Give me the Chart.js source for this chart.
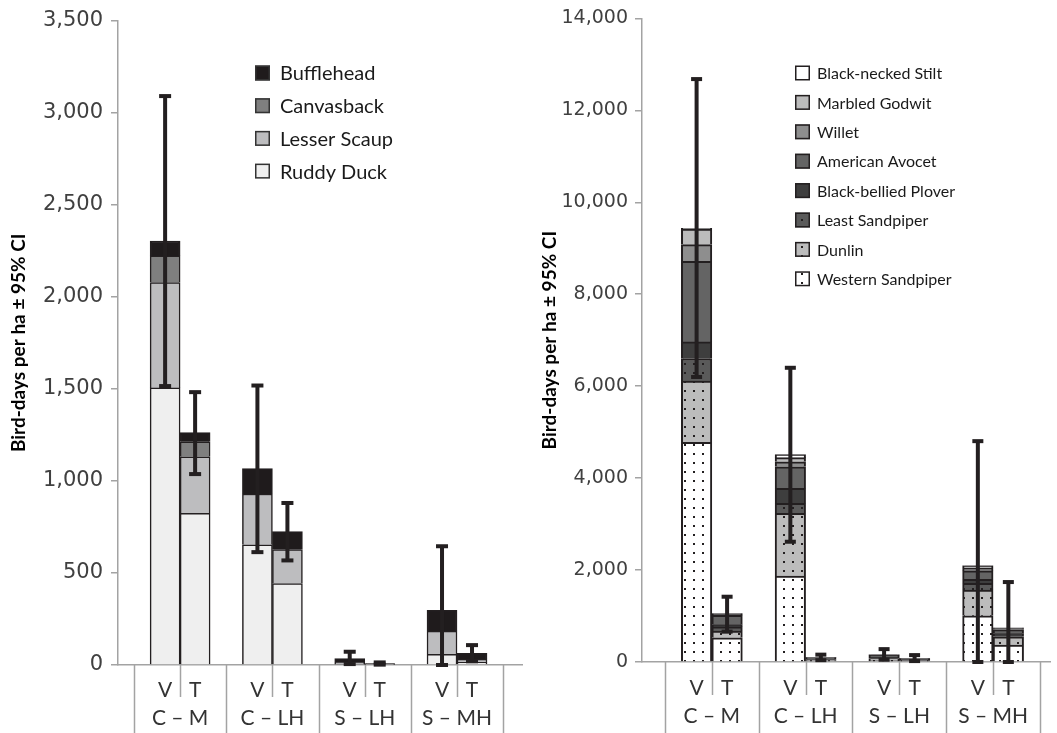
<!DOCTYPE html>
<html>
<head>
<meta charset="utf-8">
<title>Bird-days per ha</title>
<script src="https://cdn.jsdelivr.net/npm/chart.js@4.4.1/dist/chart.umd.min.js"></script>
<style>
  html, body { margin: 0; padding: 0; background: #ffffff; }
  #wrap { position: relative; width: 1057px; height: 733px; overflow: hidden; }
  #c1 { position: absolute; left: 0; top: 0; }
  #c2 { position: absolute; left: 528px; top: 0; }
</style>
</head>
<body>
<div id="wrap">
  <canvas id="c1" width="528" height="733"></canvas>
  <canvas id="c2" width="529" height="733"></canvas>
</div>
<script>
// ---- categories ----
const groups = ['C – M', 'C – LH', 'S – LH', 'S – MH'];
const treatments = ['V', 'T'];

// ---- waterfowl (left panel), stacked bottom to top ----
const duckSpecies = ['Ruddy Duck', 'Lesser Scaup', 'Canvasback', 'Bufflehead'];
const ruddyV = [1505, 653, 5, 58];
const ruddyT = [824, 442, 3, 14];
const scaupV = [572, 276, 10, 126];
const scaupT = [307, 185, 2, 18];
const canvasbackV = [145, 0, 0, 0];
const canvasbackT = [81, 0, 0, 0];
const buffleheadV = [81, 138, 20, 113];
const buffleheadT = [50, 98, 3, 31];
const duckCiLowV = [1515, 613, 5, 0];
const duckCiHighV = [3090, 1518, 72, 645];
const duckCiLowT = [1037, 568, 2, 20];
const duckCiHighT = [1482, 880, 14, 108];
const duckTicks = { max: 3500, step: 500 };

// ---- shorebirds (right panel), stacked bottom to top ----
const shoreSpecies = ['Western Sandpiper', 'Dunlin', 'Least Sandpiper', 'Black-bellied Plover',
  'American Avocet', 'Willet', 'Marbled Godwit', 'Black-necked Stilt'];
const westernV = [4776, 1870, 40, 1005];
const westernT = [528, 30, 20, 370];
const dunlinV = [1333, 1363, 35, 560];
const dunlinT = [145, 15, 10, 180];
const leastV = [493, 217, 12, 146];
const leastT = [90, 10, 5, 40];
const ploverV = [361, 326, 20, 90];
const ploverT = [50, 10, 10, 30];
const avocetV = [1754, 470, 40, 180];
const avocetT = [200, 25, 25, 80];
const willetV = [363, 110, 8, 60];
const willetT = [25, 5, 5, 25];
const godwitV = [336, 90, 3, 50];
const godwitT = [15, 3, 3, 15];
const stiltV = [15, 68, 2, 9];
const stiltT = [5, 2, 2, 6];
const shoreCiLowV = [6200, 2616, 50, 0];
const shoreCiHighV = [12680, 6400, 280, 4804];
const shoreCiLowT = [660, 40, 20, 0];
const shoreCiHighT = [1420, 160, 150, 1739];
const shoreTicks = { max: 14000, step: 2000 };

// ---- styling ----
const INK = '#231f20';
const AXIS = '#a3a3a3';
const TICK_TEXT = '#404040';
const LABEL_FONT = 'Lato, "Open Sans", sans-serif';
const NUM_FONT = '"DejaVu Sans", Verdana, sans-serif';

function dotted(bg) {
  const c = document.createElement('canvas');
  c.width = 9; c.height = 9;
  const g = c.getContext('2d');
  g.fillStyle = bg; g.fillRect(0, 0, 9, 9);
  g.fillStyle = INK; g.fillRect(3, 3, 2, 2);
  return g.createPattern(c, 'repeat');
}

const duckFills = ['#efefef', '#bdbdbf', '#7f7f7f', '#1f1b1c'];
const shoreFills = [dotted('#ffffff'), dotted('#bcbcbc'), dotted('#5a5a5a'), '#3e3e3e',
  '#646464', '#8e8e8e', '#bcbcbc', '#ffffff'];

function makeDatasets(species, seriesV, seriesT, fills, borderW, thickness) {
  const out = [];
  species.forEach((name, s) => {
    [seriesV[s], seriesT[s]].forEach((vals, t) => {
      out.push({
        label: name,
        stack: treatments[t],
        data: vals.map((v, i) => ({ x: i + 0.5, y: v })),
        backgroundColor: fills[s],
        borderColor: INK,
        borderWidth: borderW,
        barThickness: thickness
      });
    });
  });
  return out;
}

// error bars drawn on top of the stacked columns
const errorBars = {
  id: 'errorBars',
  afterDatasetsDraw(chart, args, opts) {
    const { ctx } = chart;
    const y = chart.scales.y;
    ctx.save();
    ctx.fillStyle = INK;
    opts.ranges.forEach((rng, t) => {
      const di = chart.data.datasets.findIndex(d => d.stack === treatments[t]);
      const meta = chart.getDatasetMeta(di);
      rng.low.forEach((lo, i) => {
        const x = meta.data[i].x;
        const yHi = y.getPixelForValue(rng.high[i]);
        const yLo = y.getPixelForValue(lo);
        const w = opts.lineWidth, cw = opts.capWidth, ch = opts.capHeight;
        ctx.fillRect(x - w / 2, yHi, w, yLo - yHi);
        ctx.fillRect(x - cw / 2, yHi - ch / 2, cw, ch);
        ctx.fillRect(x - cw / 2, yLo - ch / 2, cw, ch);
      });
    });
    ctx.restore();
  }
};

// two-level category labels and divider lines under the x axis
const categoryAxis = {
  id: 'categoryAxis',
  afterDraw(chart, args, opts) {
    const { ctx, chartArea } = chart;
    const x = chart.scales.x;
    const base = chartArea.bottom;
    ctx.save();
    ctx.strokeStyle = AXIS;
    ctx.lineWidth = 1.5;
    for (let g = 0; g <= groups.length; g++) {
      const px = Math.round(x.getPixelForValue(g)) + 0.5;
      ctx.beginPath(); ctx.moveTo(px, base); ctx.lineTo(px, chart.height); ctx.stroke();
    }
    for (let g = 0; g < groups.length; g++) {
      const px = Math.round(x.getPixelForValue(g + 0.5)) + 0.5;
      ctx.beginPath(); ctx.moveTo(px, base); ctx.lineTo(px, base + opts.innerLen); ctx.stroke();
    }
    ctx.fillStyle = '#333333';
    ctx.textAlign = 'center';
    ctx.textBaseline = 'middle';
    ctx.font = opts.font;
    treatments.forEach((tr, t) => {
      const di = chart.data.datasets.findIndex(d => d.stack === tr);
      const meta = chart.getDatasetMeta(di);
      meta.data.forEach(bar => ctx.fillText(tr, bar.x, opts.innerY));
    });
    groups.forEach((name, g) => {
      ctx.fillText(name, x.getPixelForValue(g + 0.5), opts.outerY);
    });
    ctx.restore();
  }
};

// legend placed inside the plot area
const boxLegend = {
  id: 'boxLegend',
  afterDraw(chart, args, opts) {
    const { ctx } = chart;
    const items = chart.data.datasets.filter(d => d.stack === 'V').slice().reverse();
    ctx.save();
    ctx.font = opts.font;
    ctx.textBaseline = 'middle';
    ctx.textAlign = 'left';
    items.forEach((d, k) => {
      const cy = opts.y + k * opts.gap;
      const b = opts.box;
      ctx.fillStyle = d.backgroundColor;
      ctx.fillRect(opts.x, cy - b / 2, b, b);
      ctx.strokeStyle = opts.boxBorder;
      ctx.lineWidth = 1.5;
      ctx.strokeRect(opts.x + 0.75, cy - b / 2 + 0.75, b - 1.5, b - 1.5);
      ctx.fillStyle = '#1a1a1a';
      ctx.fillText(d.label, opts.textX, cy + 1);
    });
    ctx.restore();
  }
};

function makeChart(canvas, cfg) {
  return new Chart(canvas, {
    type: 'bar',
    data: { datasets: cfg.datasets },
    plugins: [errorBars, categoryAxis, boxLegend],
    options: {
      responsive: false,
      animation: false,
      devicePixelRatio: 1,
      layout: { padding: { top: 18, right: cfg.padRight, left: 0, bottom: 0 } },
      plugins: {
        legend: { display: false },
        tooltip: { enabled: false },
        errorBars: cfg.err,
        categoryAxis: cfg.cat,
        boxLegend: cfg.legend
      },
      scales: {
        x: {
          type: 'linear',
          offset: false,
          min: cfg.xMin,
          max: cfg.xMax,
          ticks: { display: false },
          grid: { display: true, drawOnChartArea: false, drawTicks: false },
          border: { display: true, color: AXIS, width: 1.5 },
          afterFit(s) { s.height = cfg.xHeight; }
        },
        y: {
          stacked: true,
          min: 0,
          max: cfg.ticks.max,
          ticks: {
            stepSize: cfg.ticks.step,
            color: TICK_TEXT,
            padding: cfg.tickPad,
            font: { family: NUM_FONT, size: cfg.tickSize }
          },
          grid: { drawOnChartArea: false, drawTicks: true, tickLength: 7, color: AXIS, lineWidth: 1.5 },
          border: { display: true, color: AXIS, width: 1.5 },
          title: {
            display: true,
            text: 'Bird-days per ha ± 95% CI',
            color: '#000000',
            font: { family: LABEL_FONT, size: 19, weight: 'bold' },
            padding: { top: cfg.titlePad, bottom: 0 }
          },
          afterFit(s) { s.width = cfg.yWidth; }
        }
      }
    }
  });
}

makeChart(document.getElementById('c1'), {
  datasets: makeDatasets(duckSpecies,
    [ruddyV, scaupV, canvasbackV, buffleheadV],
    [ruddyT, scaupT, canvasbackT, buffleheadT], duckFills, 1.5, 30),
  ticks: duckTicks,
  xMin: -0.173, xMax: 4.204,
  xHeight: 68, yWidth: 118, padRight: 6,
  tickPad: 8, tickSize: 21, titlePad: 7,
  err: {
    ranges: [{ low: duckCiLowV, high: duckCiHighV }, { low: duckCiLowT, high: duckCiHighT }],
    lineWidth: 4, capWidth: 12, capHeight: 4
  },
  cat: { innerLen: 32, innerY: 690, outerY: 718, font: '21px ' + LABEL_FONT },
  legend: { x: 255, textX: 280, y: 73, gap: 32.7, box: 15, boxBorder: '#333333', font: '20px ' + LABEL_FONT }
});

makeChart(document.getElementById('c2'), {
  datasets: makeDatasets(shoreSpecies,
    [westernV, dunlinV, leastV, ploverV, avocetV, willetV, godwitV, stiltV],
    [westernT, dunlinT, leastT, ploverT, avocetT, willetT, godwitT, stiltT], shoreFills, 2, 30.5),
  ticks: shoreTicks,
  xMin: -0.245, xMax: 4.107,
  xHeight: 71, yWidth: 114, padRight: 7,
  tickPad: 7, tickSize: 19, titlePad: 10,
  err: {
    ranges: [{ low: shoreCiLowV, high: shoreCiHighV }, { low: shoreCiLowT, high: shoreCiHighT }],
    lineWidth: 4, capWidth: 11, capHeight: 4
  },
  cat: { innerLen: 33, innerY: 688, outerY: 716, font: '21px ' + LABEL_FONT },
  legend: { x: 267, textX: 289, y: 73, gap: 29.4, box: 15, boxBorder: INK, font: '16px ' + LABEL_FONT }
});
</script>
</body>
</html>
